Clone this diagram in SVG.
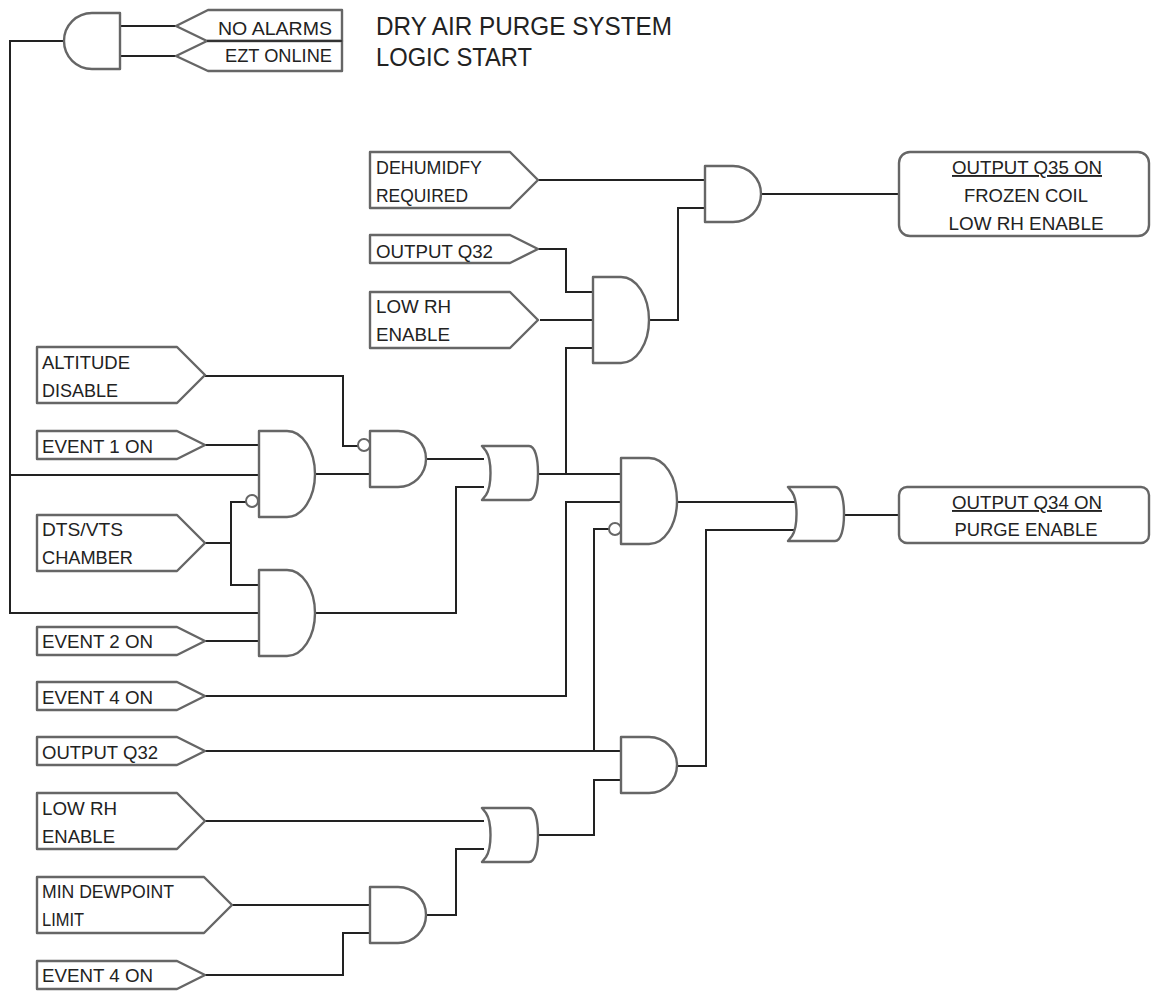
<svg xmlns="http://www.w3.org/2000/svg" width="1151" height="994" viewBox="0 0 1151 994">
<style>
text{font-family:"Liberation Sans",Arial,sans-serif;font-size:19px;fill:#222}
.t{font-size:25px}
.m{text-anchor:middle}
.r{text-anchor:end}
.u{text-decoration:underline}
.s{fill:#fff;stroke:#666;stroke-width:2.4;stroke-linejoin:round}
.c{fill:none;stroke:#222;stroke-width:2}
.b{fill:#fff;stroke:#666;stroke-width:2}
</style>
<defs>
<path id="andS" class="s" d="M0 0H28A28 28 0 0 1 28 56H0Z"/>
<path id="andL" class="s" d="M0 0H28A28 43 0 0 1 28 86H0Z"/>
<path id="or" class="s" d="M-2 0H45C51 0 54 12 54 27C54 42 51 54 45 54H-2L2 49C8 40 8 14 2 5Z"/>
<path id="in1" class="s" d="M0 0H140L168 14L140 28H0Z"/>
<path id="in2" class="s" d="M0 0H140L168 28L140 56H0Z"/>
</defs>
<g id="connectors" class="c">
<path d="M64 41H10V613H259M10 475H259M120 26H176M120 56H176"/>
<path d="M205 376H343V446H358M205 445H259M315 474H370M205 543H231M247 502H231V585H259M205 641H259"/>
<path d="M426 459H484M315 613H456V487H484M537 474H621M566 474V348H594"/>
<path d="M538 180H705M538 249H566V292H594M540 320H594M649 320H678V208H705M761 194H899"/>
<path d="M205 696H566V502H621M205 751H621M594 751V529H609M677 502H795"/>
<path d="M677 766H706V530H795M844 515H899M537 835H594V780H621M205 821H484"/>
<path d="M232 905H370M205 975H343V933H370M426 915H456V849H484"/>
</g>
<g id="gate-start"><path class="s" d="M120 13V69H92A28 28 0 0 1 92 13Z"/></g>
<g id="no-alarms"><path class="s" d="M176 26L208 10H342V41H207Z"/><text x="332" y="35" class="r" textLength="114" lengthAdjust="spacingAndGlyphs">NO ALARMS</text></g>
<g id="ezt-online"><path class="s" d="M176 56L207 41H342V71H208Z"/><path d="M207 41H342" fill="none" stroke="#333" stroke-width="2"/><text x="332" y="62" class="r" textLength="107" lengthAdjust="spacingAndGlyphs">EZT ONLINE</text></g>
<g id="title"><text x="376" y="35" class="t" textLength="296" lengthAdjust="spacingAndGlyphs">DRY AIR PURGE SYSTEM</text><text x="376" y="66" class="t" textLength="156" lengthAdjust="spacingAndGlyphs">LOGIC START</text></g>
<g id="dehumidify"><use href="#in2" x="370" y="152"/><text x="376" y="174" textLength="106" lengthAdjust="spacingAndGlyphs">DEHUMIDFY</text><text x="376" y="202" textLength="92" lengthAdjust="spacingAndGlyphs">REQUIRED</text></g>
<g id="output-q32-top"><use href="#in1" x="370" y="235"/><text x="376" y="258" textLength="117" lengthAdjust="spacingAndGlyphs">OUTPUT Q32</text></g>
<g id="low-rh-top"><use href="#in2" x="370" y="292"/><text x="376" y="313" textLength="75" lengthAdjust="spacingAndGlyphs">LOW RH</text><text x="376" y="341" textLength="74" lengthAdjust="spacingAndGlyphs">ENABLE</text></g>
<g id="altitude"><use href="#in2" x="37" y="347"/><text x="42" y="369" textLength="88" lengthAdjust="spacingAndGlyphs">ALTITUDE</text><text x="42" y="397" textLength="76" lengthAdjust="spacingAndGlyphs">DISABLE</text></g>
<g id="event1"><use href="#in1" x="37" y="431"/><text x="42" y="453" textLength="111" lengthAdjust="spacingAndGlyphs">EVENT 1 ON</text></g>
<g id="dts"><use href="#in2" x="37" y="515"/><text x="42" y="536" textLength="81" lengthAdjust="spacingAndGlyphs">DTS/VTS</text><text x="42" y="564" textLength="91" lengthAdjust="spacingAndGlyphs">CHAMBER</text></g>
<g id="event2"><use href="#in1" x="37" y="627"/><text x="42" y="648" textLength="111" lengthAdjust="spacingAndGlyphs">EVENT 2 ON</text></g>
<g id="event4a"><use href="#in1" x="37" y="682"/><text x="42" y="704" textLength="111" lengthAdjust="spacingAndGlyphs">EVENT 4 ON</text></g>
<g id="output-q32"><use href="#in1" x="37" y="737"/><text x="42" y="759" textLength="116" lengthAdjust="spacingAndGlyphs">OUTPUT Q32</text></g>
<g id="low-rh"><use href="#in2" x="37" y="793"/><text x="42" y="815" textLength="75" lengthAdjust="spacingAndGlyphs">LOW RH</text><text x="42" y="843" textLength="73" lengthAdjust="spacingAndGlyphs">ENABLE</text></g>
<g id="min-dewpoint"><path class="s" d="M37 877H204L232 905L204 933H37Z"/><text x="42" y="898" textLength="132" lengthAdjust="spacingAndGlyphs">MIN DEWPOINT</text><text x="42" y="926" textLength="42" lengthAdjust="spacingAndGlyphs">LIMIT</text></g>
<g id="event4b"><use href="#in1" x="37" y="961"/><text x="42" y="982" textLength="111" lengthAdjust="spacingAndGlyphs">EVENT 4 ON</text></g>
<g id="and-1"><use href="#andL" x="259" y="431"/><circle class="b" cx="252" cy="501" r="6"/></g>
<g id="and-2"><use href="#andS" x="370" y="431"/><circle class="b" cx="364" cy="445" r="6"/></g>
<g id="and-3"><use href="#andL" x="259" y="570"/></g>
<g id="or-1"><use href="#or" x="484" y="446"/></g>
<g id="and-4"><use href="#andL" x="593" y="277"/></g>
<g id="and-5"><use href="#andS" x="705" y="166"/></g>
<g id="and-6"><use href="#andL" x="621" y="458"/><circle class="b" cx="615" cy="529" r="6"/></g>
<g id="or-2"><use href="#or" x="790" y="487"/></g>
<g id="and-7"><use href="#andS" x="621" y="737"/></g>
<g id="or-3"><use href="#or" x="484" y="808"/></g>
<g id="and-8"><use href="#andS" x="370" y="887"/></g>
<g id="output-q35"><rect class="s" x="899" y="152" width="250" height="84" rx="11"/><text x="1027" y="174" class="m u" textLength="150" lengthAdjust="spacingAndGlyphs">OUTPUT Q35 ON</text><text x="1026" y="202" class="m" textLength="124" lengthAdjust="spacingAndGlyphs">FROZEN COIL</text><text x="1026" y="230" class="m" textLength="155" lengthAdjust="spacingAndGlyphs">LOW RH ENABLE</text></g>
<g id="output-q34"><rect class="s" x="899" y="487" width="250" height="56" rx="8"/><text x="1027" y="509" class="m u" textLength="150" lengthAdjust="spacingAndGlyphs">OUTPUT Q34 ON</text><text x="1026" y="536" class="m" textLength="143" lengthAdjust="spacingAndGlyphs">PURGE ENABLE</text></g>
</svg>
